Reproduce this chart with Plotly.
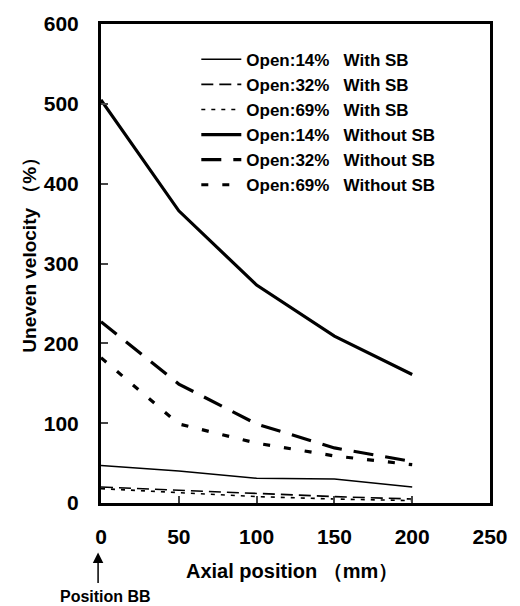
import plotly.graph_objects as go

x_pos = [0, 50, 100, 150, 200]

with_sb_14 = [47, 40, 31, 30, 20]
with_sb_32 = [20, 16, 12, 8, 5]
with_sb_69 = [18, 13, 8, 5, 3]
without_sb_14 = [505, 366, 273, 209, 161]
without_sb_32 = [227, 149, 99, 69, 52]
without_sb_69 = [182, 99, 75, 59, 48]

names = [
    "Open:14%\u00a0\u00a0\u00a0With SB",
    "Open:32%\u00a0\u00a0\u00a0With SB",
    "Open:69%\u00a0\u00a0\u00a0With SB",
    "Open:14%\u00a0\u00a0\u00a0Without SB",
    "Open:32%\u00a0\u00a0\u00a0Without SB",
    "Open:69%\u00a0\u00a0\u00a0Without SB",
]
series = [with_sb_14, with_sb_32, with_sb_69, without_sb_14, without_sb_32, without_sb_69]
styles = [
    dict(width=1.6, dash="solid"),
    dict(width=1.6, dash="12px,6px"),
    dict(width=1.6, dash="4px,6px"),
    dict(width=3.2, dash="solid"),
    dict(width=3.2, dash="20px,12px"),
    dict(width=3.2, dash="7px,14px"),
]

x_ticks = [0, 50, 100, 150, 200, 250]
y_ticks = [0, 100, 200, 300, 400, 500, 600]

fig = go.Figure()
for nm, ys, st in zip(names, series, styles):
    fig.add_trace(go.Scatter(x=x_pos, y=ys, mode="lines", name=nm,
                             line=dict(color="black", **st)))

font_family = "Liberation Sans, Arial, sans-serif"
fig.update_layout(
    width=520, height=606,
    margin=dict(l=101, r=19, t=19, b=103),
    paper_bgcolor="white", plot_bgcolor="white",
    font=dict(family=font_family, color="black"),
    showlegend=True,
    legend=dict(x=0.245, y=0.963, xanchor="left", yanchor="top",
                bgcolor="rgba(0,0,0,0)", font=dict(size=17, color="black", weight="bold"),
                tracegroupgap=0, itemwidth=40),
)
fig.update_xaxes(range=[0, 250], tickvals=x_ticks, ticks="inside", ticklen=7, tickwidth=2,
                 showline=True, linewidth=3, linecolor="black", mirror=True,
                 showgrid=False, zeroline=False,
                 tickfont=dict(size=21, weight="bold"),
                 ticklabelstandoff=13)
fig.update_yaxes(range=[0, 600], tickvals=y_ticks, ticks="inside", ticklen=7, tickwidth=2,
                 showline=True, linewidth=3, linecolor="black", mirror=True,
                 showgrid=False, zeroline=False,
                 tickfont=dict(size=21, weight="bold"),
                 ticklabelstandoff=15)

fig.add_annotation(text="Axial position （mm）", xref="paper", yref="paper",
                   x=(297 - 101) / 400, y=-(572 - 503) / 484, xanchor="center", yanchor="middle",
                   showarrow=False, font=dict(size=20, color="black", weight="bold"))
fig.add_annotation(text="Uneven velocity （%）", xref="paper", yref="paper",
                   x=-(101 - 28) / 400, y=(503 - 248) / 484, xanchor="center", yanchor="middle",
                   textangle=-90, showarrow=False, font=dict(size=19, color="black", weight="bold"))
fig.add_annotation(text="Position BB", xref="paper", yref="paper",
                   x=(106 - 101) / 400, y=-(597 - 503) / 484, xanchor="center", yanchor="middle",
                   showarrow=False, font=dict(size=16, color="black", weight="bold"))
fig.add_annotation(text="", xref="paper", yref="paper",
                   x=(98 - 101) / 400, y=-(553 - 503) / 484,
                   ax=0, ay=32, showarrow=True, arrowhead=2, arrowsize=1.4,
                   arrowwidth=1.5, arrowcolor="black")

fig.write_html("out.html")
